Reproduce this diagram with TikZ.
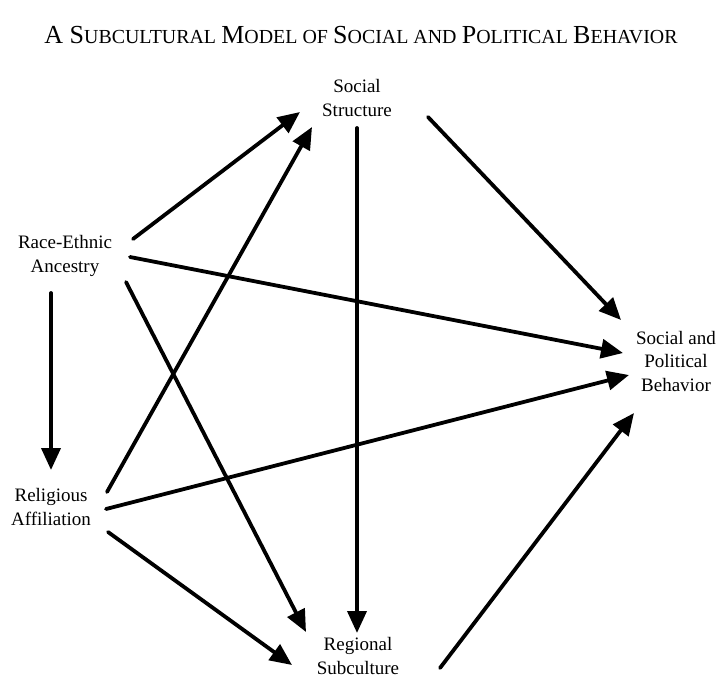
\documentclass[tikz,border=0pt]{standalone}
\usepackage{fontspec}
\setmainfont{Liberation Serif}
\usetikzlibrary{arrows.meta,calc}
\newcommand\BC[1]{{\fontsize{26}{26}\selectfont #1}}
\newcommand\SC[1]{{\fontsize{19.9}{19.9}\selectfont #1}}
\tikzset{
  lbl/.style={align=center, inner sep=0pt, font=\fontsize{19}{23.5}\selectfont},
  arr/.style={line width=3.8pt, line cap=round, -{Triangle[length=22pt,width=19pt]}}
}
\begin{document}
\begin{tikzpicture}[x=1pt,y=-1pt]
\useasboundingbox (0,0) rectangle (719,681);
\node[anchor=base, inner sep=0pt, font=\fontsize{21}{21}\selectfont] (title) at (361,43)
  {\BC{A S}\SC{UBCULTURAL} \BC{M}\SC{ODEL OF} \BC{S}\SC{OCIAL AND} \BC{P}\SC{OLITICAL} \BC{B}\SC{EHAVIOR}};
\node[lbl] (soc)  at (357,98)  {Social\\Structure};
\node[lbl] (race) at (65,256)  {Race-Ethnic\\Ancestry};
\node[lbl] (rel)  at (51,507)  {Religious\\Affiliation};
\node[lbl] (reg)  at (358,656) {Regional\\Subculture};
\node[lbl] (spb)  at (676,361) {Social and\\Political\\Behavior};
\draw[arr] ($(race)+(68,-17)$) -- ($(soc)+(-57,14)$);
\draw[arr] ($(rel)+(56,-15)$) -- ($(soc)+(-45,29)$);
\draw[arr] ($(soc)+(0,30)$) -- ($(reg)+(-1,-23)$);
\draw[arr] ($(soc)+(71,19)$) -- ($(spb)+(-55,-41)$);
\draw[arr] ($(race)+(65,1)$) -- ($(spb)+(-53,-8)$);
\draw[arr] ($(race)+(61,26)$) -- ($(reg)+(-52,-24)$);
\draw[arr] ($(race)+(-14,37)$) -- ($(rel)+(0,-37)$);
\draw[arr] ($(rel)+(55,2)$) -- ($(spb)+(-47,14)$);
\draw[arr] ($(rel)+(57,25)$) -- ($(reg)+(-66,9)$);
\draw[arr] ($(reg)+(82,12)$) -- ($(spb)+(-42,52)$);
\end{tikzpicture}
\end{document}
